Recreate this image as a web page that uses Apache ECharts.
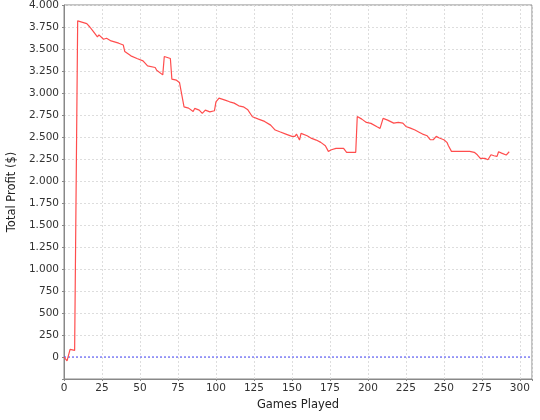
<!DOCTYPE html>
<html>
<head>
<meta charset="utf-8">
<script src="https://cdn.jsdelivr.net/npm/echarts@6/dist/echarts.min.js"></script>
<style>html,body{margin:0;padding:0;background:#fff;}#c{width:540px;height:420px;}</style>
</head>
<body>
<div id="c"></div>
<script>
var games = [0,2,4,5,7,8,9,15,17,19,22,23,26,28,31,36,39,40,44,48,52,55,60,61,65,66,67,70,71,74,76,79,82,85,86,89,91,93,96,99,100,101,102,106,109,112,115,118,121,124,128,132,136,139,142,146,150,152,153,155,156,160,163,166,169,172,174,176,179,184,186,192,193,196,199,202,206,208,210,213,217,220,223,225,228,231,234,236,239,241,243,245,247,250,252,253,255,267,270,272,274,277,279,281,283,285,286,288,291,292,293];
var profit = [0,-45,86,80,75,70,3820,3789,3750,3705,3637,3660,3611,3622,3592,3566,3546,3471,3422,3392,3365,3308,3290,3259,3206,3415,3400,3392,3157,3146,3120,2843,2828,2790,2825,2805,2768,2805,2786,2798,2900,2893,2942,2919,2900,2885,2854,2843,2809,2730,2703,2677,2635,2579,2559,2533,2507,2507,2533,2465,2541,2514,2484,2465,2439,2401,2337,2355,2371,2371,2326,2326,2734,2703,2666,2655,2616,2598,2711,2692,2658,2666,2658,2620,2601,2579,2552,2533,2514,2469,2469,2507,2488,2469,2439,2401,2337,2337,2326,2298,2257,2257,2242,2298,2287,2280,2332,2317,2295,2295,2332];
var zeroLevel = 0;
var xTitle = 'Games Played';
var yTitle = 'Total Profit ($)';

function fmtThousands(v) {
  var s = String(Math.abs(v));
  s = s.replace(/\B(?=(\d{3})+(?!\d))/g, '.');
  return (v < 0 ? '-' : '') + s;
}

var seriesData = games.map(function (g, i) { return [g, profit[i]]; });
var chart = echarts.init(document.getElementById('c'), null, {renderer: 'canvas'});
var font = 'DejaVu Sans';
chart.setOption({
  animation: false,
  backgroundColor: '#ffffff',
  grid: {left: 64, right: 8, top: 5, bottom: 41, containLabel: false, outerBoundsMode: 'none',
         show: true, borderColor: '#888888', borderWidth: 1, backgroundColor: '#ffffff'},
  xAxis: {
    type: 'value', min: 0, max: 308, interval: 25,
    name: xTitle, nameLocation: 'middle', nameGap: 20,
    nameTextStyle: {fontFamily: font, fontSize: 11.5, color: '#222'},
    axisLine: {show: true, onZero: false, lineStyle: {color: '#888888'}},
    axisTick: {show: true, length: 2, lineStyle: {color: '#888888'}},
    axisLabel: {fontFamily: font, fontSize: 10.5, color: '#333', margin: 4,
      formatter: function (v) { return v % 25 === 0 ? String(v) : ''; }},
    splitLine: {show: true, lineStyle: {color: '#dddddd', type: [2, 2]}}
  },
  yAxis: {
    type: 'value', min: -250, max: 4000, interval: 250,
    name: yTitle, nameLocation: 'middle', nameGap: 38, nameRotate: 90,
    nameTextStyle: {fontFamily: font, fontSize: 11.5, color: '#222'},
    axisLine: {show: true, onZero: false, lineStyle: {color: '#888888'}},
    axisTick: {show: true, length: 2, lineStyle: {color: '#888888'}},
    axisLabel: {fontFamily: font, fontSize: 10.5, color: '#333', margin: 5,
      formatter: function (v) { return v < 0 ? '' : fmtThousands(v); }},
    splitLine: {show: true, lineStyle: {color: '#dddddd', type: [2, 2]}}
  },
  series: [{
    type: 'line',
    data: [[0, zeroLevel], [308, zeroLevel]],
    showSymbol: false,
    symbol: 'none',
    silent: true,
    z: 1,
    lineStyle: {color: '#4a4aff', width: 1, type: [2, 2]},
    itemStyle: {color: '#4a4aff'}
  }, {
    type: 'line',
    data: seriesData,
    showSymbol: false,
    symbol: 'none',
    z: 2,
    lineStyle: {color: '#ff4d4d', width: 1.2},
    itemStyle: {color: '#ff4d4d'}
  }]
});
</script>
</body>
</html>
